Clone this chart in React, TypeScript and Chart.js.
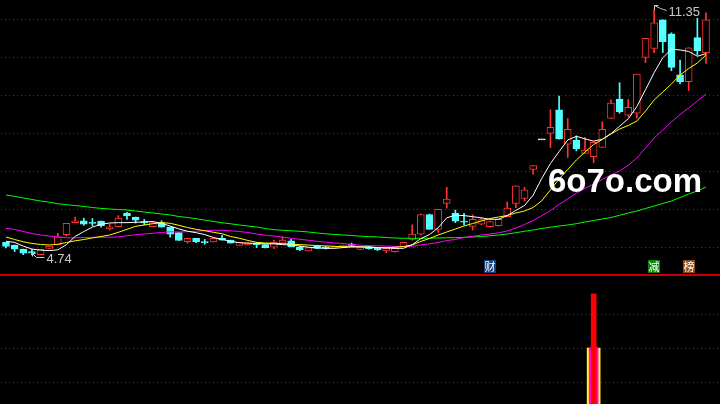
import React, { useEffect, useRef } from "react";
import { Chart, registerables } from "chart.js";

Chart.register(...registerables);

// ---- daily candles (index 0..81) ----
const opens = [
  5.08, 5.01, 4.9, 4.82, 4.75, 4.92, 5.01, 5.29, 5.61, 5.66,
  5.61, 5.65, 5.44, 5.5, 5.86, 5.76, 5.64, 5.5, 5.61, 5.49,
  5.34, 5.1, 5.19, 5.09, 5.09, 5.19, 5.14, 5.0, 5.01, 5.06,
  5.02, 4.95, 5.06, 5.12, 4.95, 4.85, 4.98, 4.96, 4.93, 4.96,
  5.02, 4.89, 4.96, 4.94, 4.85, 4.83, 4.96, 5.16, 5.3, 5.83,
  5.43, 6.13, 5.86, 5.64, 5.51, 5.57, 5.5, 5.53, 5.77, 6.13,
  6.26, 7.04, 7.85, 8.01, 8.64, 7.72, 7.83, 7.47, 7.38, 7.63,
  8.41, 8.93, 8.5, 8.55, 10.05, 10.29, 11.06, 10.68, 9.58, 9.4,
  10.58, 10.18,
];
const highs = [
  5.08, 5.01, 4.9, 4.89, 4.89, 4.98, 5.32, 5.59, 5.76, 5.73,
  5.72, 5.65, 5.57, 5.8, 5.89, 5.76, 5.7, 5.61, 5.66, 5.49,
  5.34, 5.19, 5.19, 5.16, 5.19, 5.27, 5.14, 5.08, 5.07, 5.08,
  5.02, 5.14, 5.23, 5.16, 4.98, 4.94, 4.98, 4.97, 4.98, 5.01,
  5.06, 4.96, 4.97, 4.94, 4.92, 4.93, 5.09, 5.55, 5.84, 5.84,
  5.97, 6.56, 5.95, 5.86, 5.82, 5.74, 5.65, 5.71, 6.17, 6.6,
  6.56, 7.14, 7.85, 8.64, 9.01, 8.41, 7.94, 7.9, 7.78, 8.32,
  8.91, 9.37, 8.92, 9.6, 10.56, 11.35, 11.06, 10.71, 9.98, 10.31,
  11.1, 11.25,
];
const lows = [
  4.93, 4.83, 4.75, 4.74, 4.75, 4.91, 5.01, 5.25, 5.61, 5.54,
  5.52, 5.49, 5.41, 5.49, 5.7, 5.6, 5.55, 5.5, 5.49, 5.22,
  5.13, 5.06, 5.07, 5.03, 5.09, 5.14, 5.06, 5.0, 5.01, 4.94,
  4.93, 4.91, 5.06, 4.96, 4.86, 4.85, 4.92, 4.9, 4.92, 4.95,
  4.96, 4.88, 4.9, 4.86, 4.8, 4.82, 4.96, 5.14, 5.28, 5.43,
  5.35, 6.0, 5.61, 5.55, 5.41, 5.55, 5.49, 5.52, 5.76, 6.01,
  6.19, 6.91, 7.85, 7.63, 7.85, 7.36, 7.54, 7.47, 7.22, 7.63,
  8.41, 8.55, 8.46, 8.42, 9.91, 10.18, 10.18, 9.69, 9.34, 9.16,
  10.11, 9.89,
];
const closes = [
  4.97, 4.9, 4.79, 4.81, 4.89, 4.98, 5.23, 5.59, 5.66, 5.57,
  5.6, 5.53, 5.5, 5.73, 5.8, 5.68, 5.6, 5.61, 5.49, 5.3,
  5.13, 5.19, 5.1, 5.08, 5.19, 5.14, 5.06, 5.08, 5.07, 5.01,
  4.94, 5.09, 5.14, 4.96, 4.88, 4.94, 4.92, 4.92, 4.97, 5.0,
  5.0, 4.96, 4.91, 4.88, 4.92, 4.92, 5.08, 5.3, 5.83, 5.43,
  5.97, 6.24, 5.65, 5.63, 5.7, 5.69, 5.64, 5.7, 6.0, 6.6,
  6.49, 7.14, 7.85, 8.17, 7.86, 8.12, 7.59, 7.56, 7.77, 8.12,
  8.82, 8.59, 8.71, 9.6, 10.56, 10.98, 10.47, 9.78, 9.4, 10.31,
  10.23, 11.06,
];

// ---- moving averages ----
const ma5 = [
  5.11, 5.08, 4.98, 4.9, 4.87, 4.86, 4.88, 5.02, 5.24, 5.37,
  5.49, 5.57, 5.6, 5.61, 5.61, 5.62, 5.63, 5.64, 5.59, 5.52,
  5.44, 5.38, 5.34, 5.29, 5.21, 5.16, 5.11, 5.07, 5.06, 5.05,
  5.04, 5.04, 5.02, 5.01, 4.98, 4.95, 4.93, 4.92, 4.92, 4.94,
  4.96, 4.96, 4.96, 4.94, 4.93, 4.92, 4.92, 5.02, 5.18, 5.29,
  5.47, 5.74, 5.81, 5.8, 5.77, 5.74, 5.7, 5.7, 5.8, 5.94,
  6.07, 6.35, 6.8, 7.2, 7.52, 7.83, 7.93, 7.86, 7.8, 7.85,
  8.0, 8.2, 8.4, 8.73, 9.18, 9.64, 10.04, 10.27, 10.25, 10.21,
  10.08, 10.15,
];
const ma10 = [
  5.225, 5.157, 5.096, 5.05, 5.023, 5.01, 5.029, 5.077, 5.122, 5.157,
  5.198, 5.238, 5.278, 5.351, 5.431, 5.512, 5.547, 5.582, 5.609, 5.593,
  5.539, 5.48, 5.431, 5.394, 5.351, 5.311, 5.238, 5.19, 5.131, 5.082,
  5.063, 5.055, 5.045, 5.034, 5.02, 5.007, 4.996, 4.985, 4.972, 4.964,
  4.964, 4.958, 4.945, 4.937, 4.937, 4.948, 4.969, 5.01, 5.104, 5.184,
  5.278, 5.359, 5.44, 5.52, 5.587, 5.654, 5.721, 5.762, 5.802, 5.869,
  5.923, 6.017, 6.2, 6.49, 6.783, 7.038, 7.293, 7.508, 7.71, 7.844,
  7.992, 8.126, 8.22, 8.341, 8.61, 8.905, 9.12, 9.335, 9.577, 9.752,
  9.9, 10.114,
];
const ma20 = [
  5.458, 5.426, 5.372, 5.319, 5.278, 5.251, 5.225, 5.203, 5.203, 5.211,
  5.217, 5.217, 5.217, 5.23, 5.257, 5.286, 5.305, 5.324, 5.345, 5.364,
  5.359, 5.367, 5.38, 5.394, 5.405, 5.405, 5.391, 5.372, 5.345, 5.305,
  5.273, 5.251, 5.219, 5.19, 5.163, 5.136, 5.109, 5.085, 5.063, 5.05,
  5.023, 5.004, 4.993, 4.988, 4.98, 4.972, 4.967, 4.975, 5.01, 5.042,
  5.077, 5.13, 5.157, 5.211, 5.243, 5.278, 5.305, 5.337, 5.386, 5.466,
  5.56, 5.668, 5.8, 5.93, 6.1, 6.25, 6.4, 6.53, 6.648, 6.77,
  6.89, 6.998, 7.15, 7.347, 7.616, 7.884, 8.099, 8.314, 8.516, 8.69,
  8.878, 9.067,
];
const ma60 = [
  6.353, 6.318, 6.272, 6.232, 6.192, 6.16, 6.119, 6.092, 6.071, 6.044,
  6.017, 5.993, 5.977, 5.961, 5.95, 5.923, 5.896, 5.869, 5.842, 5.816,
  5.775, 5.749, 5.716, 5.681, 5.641, 5.609, 5.579, 5.547, 5.52, 5.493,
  5.453, 5.421, 5.405, 5.391, 5.378, 5.359, 5.332, 5.311, 5.292, 5.278,
  5.265, 5.246, 5.233, 5.225, 5.211, 5.198, 5.19, 5.19, 5.19, 5.192,
  5.198, 5.203, 5.208, 5.217, 5.225, 5.238, 5.257, 5.278, 5.305, 5.34,
  5.378, 5.413, 5.453, 5.488, 5.52, 5.547, 5.582, 5.628, 5.668, 5.708,
  5.749, 5.808, 5.869, 5.923, 5.99, 6.057, 6.125, 6.192, 6.286, 6.38,
  6.461, 6.568,
];

// dotted separator levels of the price panel
const priceGridLevels = [11.082, 10.061, 9.04, 8.019, 6.998, 5.977, 4.956];

// event markers shown under the candles
const markerIndex = [56, 75, 79];
const markerText = ["财", "减", "榜"];

// lower indicator panel
const signalIndex = [68];
const signalRed = [3.59];
const signalMagenta = [2.0];
const signalYellow = [2.0];
const lowerGridLevels = [1, 2, 3];

const watermark = "6o7o.com";

// ---- styling ----
const UP = "#ff3232";
const DOWN = "#54ffff";
const FLAT = "#ffffff";
const GRID = "#8c1818";
const X_MIN = -0.694;
const X_MAX = 82.62;
const PRICE_MIN = 4.2304;
const PRICE_MAX = 11.592;
const LOW_MIN = 0.353;
const LOW_MAX = 4.176;
const MARKER_BG = ["#123f78", "#0b800b", "#8a4b12"];

function dottedGrid(levels: number[]) {
  return {
    id: "dottedGrid",
    beforeDatasetsDraw(chart: any) {
      const { ctx, chartArea, scales } = chart;
      ctx.save();
      ctx.strokeStyle = GRID;
      ctx.lineWidth = 1;
      ctx.setLineDash([1, 3]);
      ctx.lineDashOffset = -1;
      levels.forEach((v) => {
        const py = Math.round(scales.y.getPixelForValue(v)) + 0.5;
        ctx.beginPath();
        ctx.moveTo(chartArea.left, py);
        ctx.lineTo(chartArea.right, py);
        ctx.stroke();
      });
      ctx.restore();
    },
  };
}

const annotations = {
  id: "annotations",
  afterDatasetsDraw(chart: any) {
    const { ctx, scales, chartArea } = chart;
    const x = scales.x;
    const y = scales.y;
    let hi = 0;
    let lo = 0;
    highs.forEach((v, i) => {
      if (v > highs[hi]) hi = i;
    });
    lows.forEach((v, i) => {
      if (v < lows[lo]) lo = i;
    });
    ctx.save();
    ctx.strokeStyle = "#c8c8c8";
    ctx.fillStyle = "#c8c8c8";
    ctx.lineWidth = 1;
    ctx.font = '13px "Liberation Sans", Arial, sans-serif';
    ctx.textBaseline = "middle";
    ctx.textAlign = "left";
    // high label
    const hx = Math.round(x.getPixelForValue(hi)) + 0.5;
    const hy = Math.round(y.getPixelForValue(highs[hi])) + 0.5;
    ctx.beginPath();
    ctx.moveTo(hx + 4, hy - 4);
    ctx.lineTo(hx, hy - 4);
    ctx.lineTo(hx, hy);
    ctx.moveTo(hx, hy - 4);
    ctx.lineTo(hx + 6, hy - 1);
    ctx.lineTo(hx + 9, hy);
    ctx.lineTo(hx + 12, hy + 1);
    ctx.stroke();
    ctx.fillText(highs[hi].toFixed(2), hx + 14, hy + 2.5);
    // low label
    const lx = Math.round(x.getPixelForValue(lo)) + 0.5;
    const ly = Math.round(y.getPixelForValue(lows[lo])) + 0.5;
    ctx.beginPath();
    ctx.moveTo(lx + 3, ly - 2);
    ctx.lineTo(lx, ly - 2);
    ctx.lineTo(lx, ly + 1);
    ctx.moveTo(lx, ly - 2);
    ctx.lineTo(lx + 4, ly + 2);
    ctx.lineTo(lx + 12, ly + 2);
    ctx.stroke();
    ctx.fillText(lows[lo].toFixed(2), lx + 14, ly + 3.5);

    // event markers
    ctx.font = '11px "Noto Sans CJK SC", sans-serif';
    ctx.textAlign = "center";
    markerIndex.forEach((idx, k) => {
      const cx = Math.round(x.getPixelForValue(idx));
      const top = chartArea.bottom - 14;
      ctx.fillStyle = MARKER_BG[k];
      ctx.fillRect(cx - 6, top, 12, 13);
      ctx.fillStyle = "#ffffff";
      ctx.fillText(markerText[k], cx, top + 7);
    });

    // watermark
    ctx.font = 'bold 33px "Liberation Sans", Arial, sans-serif';
    ctx.textAlign = "left";
    ctx.textBaseline = "alphabetic";
    ctx.fillStyle = "#ffffff";
    ctx.fillText(watermark, 548, 192);
    ctx.restore();
  },
};

const separator = {
  id: "separator",
  afterDraw(chart: any) {
    const { ctx, width } = chart;
    ctx.save();
    ctx.fillStyle = "#c80000";
    ctx.fillRect(0, 0, width, 2);
    ctx.restore();
  },
};

const xScale = { type: "linear", min: X_MIN, max: X_MAX, offset: false, display: false, grid: { offset: false } };

export default function App() {
  const topRef = useRef<HTMLCanvasElement>(null);
  const botRef = useRef<HTMLCanvasElement>(null);

  useEffect(() => {
    const colorOf = (i: number) =>
      closes[i] > opens[i] ? UP : closes[i] < opens[i] ? DOWN : FLAT;
    const colors = opens.map((_, i) => colorOf(i));
    const bodies = opens.map((o, i) => {
      let a = Math.min(o, closes[i]);
      let b = Math.max(o, closes[i]);
      if (b - a < 0.03) {
        const m = (a + b) / 2;
        a = m - 0.015;
        b = m + 0.015;
      }
      return { x: i, y: [a, b] };
    });
    const wicks = opens.map((_, i) => ({ x: i, y: [lows[i], highs[i]] }));
    const bodyFill = opens.map((o, i) => (closes[i] > o ? "#000000" : colors[i]));
    const line = (arr: number[]) => arr.map((v, i) => ({ x: i, y: v }));

    const top = new Chart(topRef.current as HTMLCanvasElement, {
      type: "bar",
      data: {
        datasets: [
          { type: "line", data: line(ma5), borderColor: "#ffffff", borderWidth: 1, pointRadius: 0, order: 0 } as any,
          { type: "line", data: line(ma10), borderColor: "#ffff00", borderWidth: 1, pointRadius: 0, order: 1 } as any,
          { type: "line", data: line(ma20), borderColor: "#ff00ff", borderWidth: 1, pointRadius: 0, order: 2 } as any,
          { type: "line", data: line(ma60), borderColor: "#00ff00", borderWidth: 1, pointRadius: 0, order: 3 } as any,
          {
            type: "bar",
            data: bodies,
            backgroundColor: bodyFill,
            borderColor: colors,
            borderWidth: 1,
            borderSkipped: false,
            barThickness: 7,
            grouped: false,
            order: 5,
          } as any,
          {
            type: "bar",
            data: wicks,
            backgroundColor: colors,
            borderWidth: 0,
            barThickness: 1,
            grouped: false,
            order: 6,
          } as any,
        ],
      },
      options: {
        responsive: false,
        animation: false,
        events: [],
        layout: { padding: 0 },
        plugins: { legend: { display: false }, tooltip: { enabled: false } },
        scales: {
          x: xScale,
          y: { type: "linear", min: PRICE_MIN, max: PRICE_MAX, display: false },
        },
      } as any,
      plugins: [dottedGrid(priceGridLevels), annotations],
    });

    const pts = (vals: number[]) => signalIndex.map((idx, k) => ({ x: idx, y: vals[k] }));
    const bot = new Chart(botRef.current as HTMLCanvasElement, {
      type: "bar",
      data: {
        datasets: [
          { data: pts(signalRed), backgroundColor: "#ff0000", barThickness: 5, grouped: false, order: 0 } as any,
          { data: pts(signalMagenta), backgroundColor: "#ff00ff", barThickness: 9, grouped: false, order: 1 } as any,
          { data: pts(signalYellow), backgroundColor: "#ffff00", barThickness: 13, grouped: false, order: 2 } as any,
        ],
      },
      options: {
        responsive: false,
        animation: false,
        events: [],
        layout: { padding: 0 },
        plugins: { legend: { display: false }, tooltip: { enabled: false } },
        scales: {
          x: xScale,
          y: { type: "linear", min: LOW_MIN, max: LOW_MAX, display: false },
        },
      } as any,
      plugins: [dottedGrid(lowerGridLevels), separator],
    });

    return () => {
      top.destroy();
      bot.destroy();
    };
  }, []);

  return (
    <div
      style={{
        position: "fixed",
        left: 0,
        top: 0,
        width: 720,
        height: 404,
        background: "#000",
        overflow: "hidden",
      }}
    >
      <canvas
        ref={topRef}
        width={720}
        height={274}
        style={{ position: "absolute", left: 0, top: 0, display: "block" }}
      />
      <canvas
        ref={botRef}
        width={720}
        height={130}
        style={{ position: "absolute", left: 0, top: 274, display: "block" }}
      />
    </div>
  );
}
